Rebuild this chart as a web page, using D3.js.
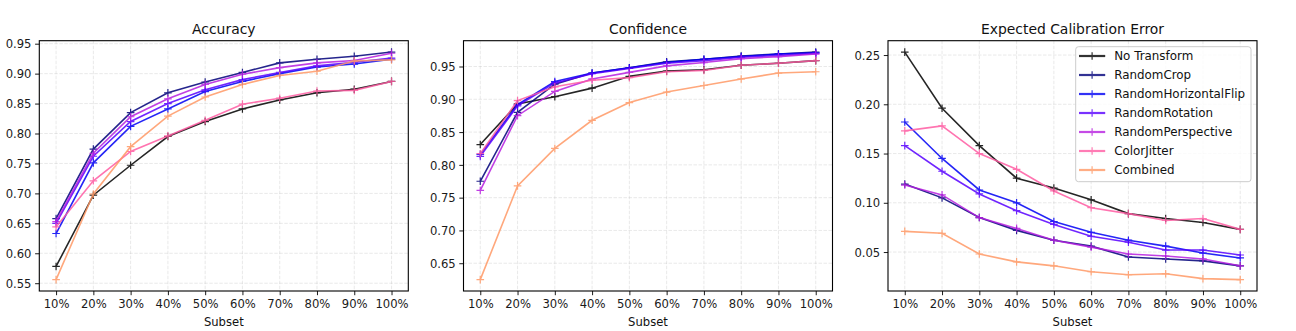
<!DOCTYPE html>
<html>
<head>
<meta charset="utf-8">
<script src="https://cdn.jsdelivr.net/npm/d3@7"></script>
<style>
  body { margin: 0; background: #fff; }
  svg { display: block; font-family: "DejaVu Sans", sans-serif; }
</style>
</head>
<body>
<script>
// subsets of the training set (%)
const subsets = [10, 20, 30, 40, 50, 60, 70, 80, 90, 100];

const seriesNames = ["No Transform", "RandomCrop", "RandomHorizontalFlip", "RandomRotation",
  "RandomPerspective", "ColorJitter", "Combined"];

const accuracy = [
  [0.578, 0.697, 0.747, 0.795, 0.820, 0.841, 0.856, 0.868, 0.874, 0.887],
  [0.658, 0.774, 0.835, 0.868, 0.886, 0.902, 0.918, 0.924, 0.929, 0.936],
  [0.633, 0.751, 0.812, 0.841, 0.870, 0.887, 0.900, 0.911, 0.916, 0.924],
  [0.650, 0.762, 0.820, 0.850, 0.873, 0.890, 0.902, 0.913, 0.919, 0.926],
  [0.653, 0.767, 0.828, 0.858, 0.882, 0.899, 0.910, 0.918, 0.922, 0.934],
  [0.644, 0.721, 0.770, 0.796, 0.822, 0.849, 0.859, 0.871, 0.872, 0.887],
  [0.556, 0.699, 0.778, 0.829, 0.861, 0.882, 0.897, 0.904, 0.921, 0.923]
];

const confidence = [
  [0.831, 0.893, 0.904, 0.917, 0.935, 0.943, 0.945, 0.952, 0.955, 0.959],
  [0.775, 0.880, 0.923, 0.940, 0.948, 0.957, 0.961, 0.966, 0.969, 0.972],
  [0.816, 0.892, 0.927, 0.940, 0.948, 0.956, 0.961, 0.965, 0.969, 0.971],
  [0.813, 0.890, 0.925, 0.939, 0.947, 0.955, 0.959, 0.964, 0.967, 0.970],
  [0.761, 0.875, 0.912, 0.931, 0.941, 0.951, 0.956, 0.962, 0.965, 0.969],
  [0.817, 0.898, 0.919, 0.929, 0.933, 0.942, 0.944, 0.952, 0.955, 0.959],
  [0.625, 0.768, 0.825, 0.868, 0.895, 0.911, 0.921, 0.931, 0.940, 0.942]
];

const ece = [
  [0.253, 0.196, 0.158, 0.125, 0.115, 0.103, 0.089, 0.084, 0.080, 0.073],
  [0.119, 0.105, 0.085, 0.072, 0.062, 0.056, 0.045, 0.043, 0.041, 0.036],
  [0.182, 0.145, 0.113, 0.100, 0.081, 0.070, 0.062, 0.056, 0.049, 0.044],
  [0.158, 0.132, 0.109, 0.092, 0.078, 0.066, 0.060, 0.052, 0.052, 0.047],
  [0.118, 0.108, 0.085, 0.074, 0.062, 0.055, 0.048, 0.046, 0.043, 0.036],
  [0.173, 0.178, 0.150, 0.134, 0.112, 0.095, 0.089, 0.082, 0.084, 0.073],
  [0.071, 0.069, 0.048, 0.040, 0.036, 0.030, 0.027, 0.028, 0.023, 0.022]
];

const accTicks = [0.55, 0.60, 0.65, 0.70, 0.75, 0.80, 0.85, 0.90, 0.95];
const confTicks = [0.65, 0.70, 0.75, 0.80, 0.85, 0.90, 0.95];
const eceTicks = [0.05, 0.10, 0.15, 0.20, 0.25];

// gnuplot2-like colours
const colors = ["#000000", "#00007a", "#0000f5", "#5800ff", "#b71fe0", "#ff5ca3", "#ff9966"];

const W = 1296, H = 331;
const svg = d3.select("body").append("svg").attr("width", W).attr("height", H);

const panels = [
  { title: "Accuracy", data: accuracy, ticks: accTicks, left: 39.3 },
  { title: "Confidence", data: confidence, ticks: confTicks, left: 463.5 },
  { title: "Expected Calibration Error", data: ece, ticks: eceTicks, left: 888 }
];
const pw = 369, plotTop = 40.7, plotBottom = 291;
const fs = 11.6;

panels.forEach((p, pi) => {
  const g = svg.append("g").attr("transform", `translate(${p.left},0)`);

  const x = d3.scaleLinear()
    .domain([10 - 4.5, 100 + 4.5])
    .range([0, pw]);

  const all = p.data.flat();
  const [lo, hi] = d3.extent(all);
  const pad = (hi - lo) * 0.05;
  const y = d3.scaleLinear().domain([lo - pad, hi + pad]).range([plotBottom, plotTop]);

  // grid
  const grid = g.append("g");
  grid.selectAll(".gx").data(subsets).join("line")
    .attr("x1", d => x(d)).attr("x2", d => x(d))
    .attr("y1", plotTop).attr("y2", plotBottom);
  grid.selectAll(".gy").data(p.ticks).join("line")
    .attr("x1", 0).attr("x2", pw)
    .attr("y1", d => y(d)).attr("y2", d => y(d));
  grid.selectAll("line")
    .attr("stroke", "#b0b0b0").attr("stroke-opacity", 0.35)
    .attr("stroke-width", 0.8).attr("stroke-dasharray", "3.5,1.5");

  // lines
  const line = d3.line().x((d, i) => x(subsets[i])).y(d => y(d));
  p.data.forEach((vals, si) => {
    const s = g.append("g").attr("opacity", 0.85);
    s.append("path").datum(vals)
      .attr("d", line).attr("fill", "none")
      .attr("stroke", colors[si]).attr("stroke-width", 1.6);
    const m = s.selectAll("g.m").data(vals).join("g")
      .attr("transform", (d, i) => `translate(${x(subsets[i])},${y(d)})`);
    m.append("path").attr("d", "M-3.8,0H3.8M0,-3.8V3.8")
      .attr("stroke", colors[si]).attr("stroke-width", 1.2);
  });

  // axes
  const xAxis = d3.axisBottom(x).tickValues(subsets).tickFormat(d => d + "%")
    .tickSizeInner(4.2).tickSizeOuter(0).tickPadding(4.2);
  const gx = g.append("g").attr("transform", `translate(0,${plotBottom})`).call(xAxis);
  const yAxis = d3.axisLeft(y).tickValues(p.ticks).tickFormat(d3.format(".2f"))
    .tickSizeInner(4.2).tickSizeOuter(0).tickPadding(3.6);
  const gy = g.append("g").call(yAxis);
  [gx, gy].forEach(a => {
    a.select(".domain").remove();
    a.selectAll(".tick line").attr("stroke", "#000").attr("stroke-width", 0.9);
    a.selectAll(".tick text").attr("fill", "#1a1a1a")
      .style("font-size", fs + "px").style("font-family", "DejaVu Sans");
  });
  gx.selectAll(".tick text").attr("dy", null).attr("y", 17.2);
  gy.selectAll(".tick text").attr("dy", "0.36em");

  // frame
  g.append("rect").attr("x", 0).attr("y", plotTop).attr("width", pw).attr("height", plotBottom - plotTop)
    .attr("fill", "none").attr("stroke", "#000").attr("stroke-width", 1.1);

  // titles
  g.append("text").attr("x", pw / 2).attr("y", 34.3).attr("text-anchor", "middle")
    .style("font-size", "13.9px").attr("fill", "#111").text(p.title);
  g.append("text").attr("x", pw / 2).attr("y", 325.5).attr("text-anchor", "middle")
    .style("font-size", fs + "px").attr("fill", "#111").text("Subset");

  // legend on the last panel
  if (pi === 2) {
    const lx = 1075.7 - p.left, ly = 46.7;
    const lg = g.append("g");
    lg.append("rect").attr("x", lx).attr("y", ly).attr("width", 175.3).attr("height", 135)
      .attr("rx", 2.8).attr("fill", "#fff").attr("fill-opacity", 0.8)
      .attr("stroke", "#cccccc").attr("stroke-width", 1);
    seriesNames.forEach((name, si) => {
      const cy = 56 + si * 19;
      const e = lg.append("g").attr("opacity", 0.8);
      e.append("line").attr("x1", lx + 3.3).attr("x2", lx + 29.5)
        .attr("y1", cy).attr("y2", cy)
        .attr("stroke", colors[si]).attr("stroke-width", 2.2);
      e.append("path").attr("d", `M${lx + 16.4 - 3.8},${cy}H${lx + 16.4 + 3.8}M${lx + 16.4},${cy - 3.8}V${cy + 3.8}`)
        .attr("stroke", colors[si]).attr("stroke-width", 1.2);
      lg.append("text").attr("x", lx + 38.5).attr("y", cy + 4.4)
        .style("font-size", "11.9px").attr("fill", "#111").text(name);
    });
  }
});
</script>
</body>
</html>
